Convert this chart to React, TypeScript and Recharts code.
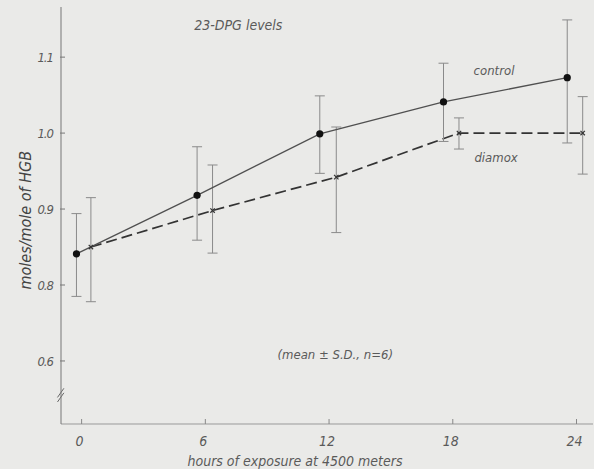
import React from "react";
import {
  LineChart,
  Line,
  XAxis,
  YAxis,
  ErrorBar,
  ReferenceDot,
  ReferenceLine,
} from "recharts";

// ---- data ----
const controlHours = [-0.25, 5.6, 11.55, 17.55, 23.55];
const controlMean = [0.841, 0.918, 0.999, 1.041, 1.073];
const controlLow = [0.785, 0.859, 0.947, 0.989, 0.987];
const controlHigh = [0.894, 0.982, 1.049, 1.092, 1.149];

const diamoxHours = [0.45, 6.35, 12.35, 18.3, 24.3];
const diamoxMean = [0.85, 0.898, 0.942, 1.0, 1.0];
const diamoxLow = [0.778, 0.842, 0.869, 0.979, 0.946];
const diamoxHigh = [0.915, 0.958, 1.008, 1.02, 1.048];

const xTicks = [0, 6, 12, 18, 24];
const xTickLabels = ["0", "6", "12", "18", "24"];
const yTicks = [0.7, 0.8, 0.9, 1.0, 1.1];
const yTickLabels = ["0.6", "0.8", "0.9", "1.0", "1.1"];

const build = (hours: number[], mean: number[], low: number[], high: number[]) =>
  hours.map((h, i) => ({
    x: h,
    y: mean[i],
    err: [mean[i] - low[i], high[i] - mean[i]],
  }));

const controlData = build(controlHours, controlMean, controlLow, controlHigh);
const diamoxData = build(diamoxHours, diamoxMean, diamoxLow, diamoxHigh);

const FONT = "'DejaVu Sans Condensed', 'DejaVu Sans', sans-serif";
const TEXT = "#5a5a5a";

const XTick = (props: any) => {
  const { x, y, payload } = props;
  const idx = xTicks.indexOf(payload.value);
  return (
    <g>
      <line x1={x} y1={y} x2={x} y2={y - 5} stroke="#888" strokeWidth={1} />
      <text
        x={x - 2}
        y={y + 22}
        textAnchor="middle"
        fontSize={14}
        fontStyle="italic"
        fontFamily={FONT}
        fill={TEXT}
      >
        {xTickLabels[idx] ?? payload.value}
      </text>
    </g>
  );
};

const YTick = (props: any) => {
  const { x, y, payload } = props;
  const idx = yTicks.findIndex((t) => Math.abs(t - payload.value) < 1e-6);
  return (
    <g>
      <line x1={x - 1} y1={y} x2={x + 4} y2={y} stroke="#777" strokeWidth={1} />
      <text
        x={x - 8}
        y={y + 5}
        textAnchor="end"
        fontSize={13}
        letterSpacing={-1}
        fontStyle="italic"
        fontFamily={FONT}
        fill={TEXT}
      >
        {idx >= 0 ? yTickLabels[idx] : payload.value}
      </text>
    </g>
  );
};

const CircleDot = (props: any) => {
  const { cx, cy } = props;
  if (cx == null || cy == null) return null;
  return <circle cx={cx} cy={cy} r={3.6} fill="#111" />;
};

const CrossDot = (props: any) => {
  const { cx, cy } = props;
  if (cx == null || cy == null) return null;
  const s = 2.2;
  return (
    <g stroke="#333" strokeWidth={1.2}>
      <line x1={cx - s} y1={cy - s} x2={cx + s} y2={cy + s} />
      <line x1={cx - s} y1={cy + s} x2={cx + s} y2={cy - s} />
    </g>
  );
};

const textLabel = (value: string, size: number) => ({
  value,
  position: "center" as const,
  fontSize: size,
  fontStyle: "italic",
  fontFamily: FONT,
  fill: TEXT,
});

export default function App() {
  return (
    <div
      style={{
        position: "absolute",
        left: 0,
        top: 0,
        width: 594,
        height: 469,
        background: "#eaeae8",
        overflow: "hidden",
      }}
    >
      <LineChart
        width={594}
        height={469}
        margin={{ top: 7, right: 1, bottom: 0, left: 0 }}
      >
        <XAxis
          type="number"
          dataKey="x"
          domain={[-1, 24.8]}
          ticks={xTicks}
          tick={<XTick />}
          tickLine={false}
          tickSize={0}
          tickMargin={0}
          height={45}
          axisLine={{ stroke: "#999", strokeWidth: 1 }}
          allowDataOverflow
          label={{
            value: "hours of exposure at 4500 meters",
            position: "insideBottom",
            offset: 3,
            dx: -32,
            fontSize: 14,
            fontStyle: "italic",
            fontFamily: FONT,
            fill: TEXT,
          }}
        />
        <YAxis
          type="number"
          domain={[0.617, 1.166]}
          ticks={yTicks}
          tick={<YTick />}
          tickLine={false}
          tickSize={0}
          tickMargin={0}
          width={61}
          axisLine={{ stroke: "#777", strokeWidth: 1 }}
          allowDataOverflow
          label={{
            value: "moles/mole of HGB",
            angle: -90,
            position: "insideLeft",
            offset: 25,
            dy: 74,
            fontSize: 16,
            fontStyle: "italic",
            fontFamily: FONT,
            fill: "#444",
          }}
        />
        <ReferenceLine
          segment={[
            { x: -1.17, y: 0.652 },
            { x: -0.86, y: 0.664 },
          ]}
          stroke="#666"
          strokeWidth={1}
          ifOverflow="visible"
        />
        <ReferenceLine
          segment={[
            { x: -1.17, y: 0.646 },
            { x: -0.86, y: 0.658 },
          ]}
          stroke="#666"
          strokeWidth={1}
          ifOverflow="visible"
        />
        <Line
          data={diamoxData}
          dataKey="y"
          stroke="#333"
          strokeWidth={1.7}
          strokeDasharray="11 5"
          dot={<CrossDot />}
          activeDot={false}
          isAnimationActive={false}
        >
          <ErrorBar
            dataKey="err"
            direction="y"
            width={5}
            stroke="#8a8a8a"
            strokeWidth={1}
            isAnimationActive={false}
          />
        </Line>
        <Line
          data={controlData}
          dataKey="y"
          stroke="#505050"
          strokeWidth={1.3}
          dot={<CircleDot />}
          activeDot={false}
          isAnimationActive={false}
        >
          <ErrorBar
            dataKey="err"
            direction="y"
            width={5}
            stroke="#8a8a8a"
            strokeWidth={1}
            isAnimationActive={false}
          />
        </Line>
        <ReferenceDot
          x={7.6}
          y={1.142}
          r={0}
          ifOverflow="visible"
          label={textLabel("23-DPG levels", 14)}
        />
        <ReferenceDot
          x={20.0}
          y={1.083}
          r={0}
          ifOverflow="visible"
          label={textLabel("control", 13)}
        />
        <ReferenceDot
          x={20.1}
          y={0.968}
          r={0}
          ifOverflow="visible"
          label={textLabel("diamox", 13)}
        />
        <ReferenceDot
          x={12.3}
          y={0.708}
          r={0}
          ifOverflow="visible"
          label={textLabel("(mean ± S.D., n=6)", 13)}
        />
      </LineChart>
    </div>
  );
}
